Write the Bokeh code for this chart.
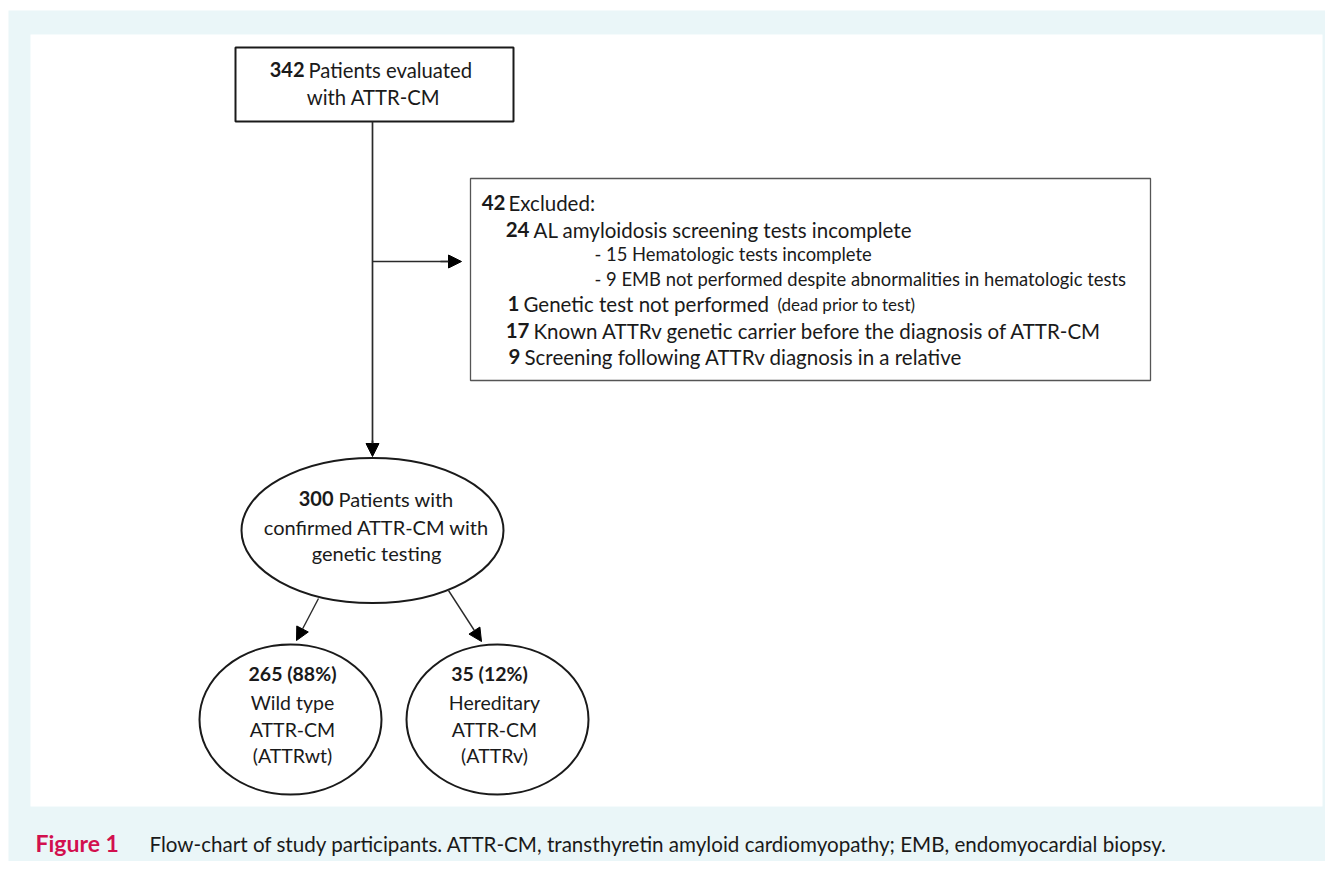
from bokeh.plotting import figure
from bokeh.models import Range1d, Arrow, NormalHead
from bokeh.core.properties import value
from bokeh.embed import file_html
from bokeh.resources import INLINE

# ---------------- data ----------------
total_n = "342"
total_txt = ["Patients evaluated", "with ATTR-CM"]
excl_n = "42"
excl_head = "Excluded:"
excl_main_n = ["24", "1", "17", "9"]
excl_main_txt = ["AL amyloidosis screening tests incomplete",
                 "Genetic test not performed",
                 "Known ATTRv genetic carrier before the diagnosis of ATTR-CM",
                 "Screening following ATTRv diagnosis in a relative"]
excl_sub = ["- 15 Hematologic tests incomplete",
            "- 9 EMB not performed despite abnormalities in hematologic tests"]
excl_note = "(dead prior to test)"
confirmed_n = "300"
confirmed_txt = ["Patients with", "confirmed ATTR-CM with", "genetic testing"]
groups_n = ["265 (88%)", "35 (12%)"]
groups_txt = [["Wild type", "ATTR-CM", "(ATTRwt)"],
              ["Hereditary", "ATTR-CM", "(ATTRv)"]]
caption_label = "Figure 1"
caption_text = ("Flow-chart of study participants. ATTR-CM, transthyretin amyloid "
                "cardiomyopathy; EMB, endomyocardial biopsy.")

# ---------------- styles ----------------
FONT = "Lato"
INK = "#1a1a1a"
PANEL = "#EAF6F8"
CRIMSON = "#D2104E"

p = figure(width=1325, height=861, x_range=Range1d(0, 1325), y_range=Range1d(861, 0),
           output_backend="svg", toolbar_location=None, min_border=0)
p.axis.visible = False
p.grid.visible = False
p.outline_line_color = None
p.background_fill_color = "white"
p.border_fill_color = "white"

# panel backgrounds
p.quad(left=[8], right=[1325], top=[10], bottom=[861], fill_color=PANEL, line_color=None)
p.quad(left=[30], right=[1322], top=[34], bottom=[806], fill_color="white", line_color=None)


def txt(x, y, s, bold=False, size="20px", align="left", color=INK, font=FONT):
    p.text(x=[x], y=[y], text=[s], text_font=value(font), text_font_size=size,
           text_font_style="bold" if bold else "normal", text_align=align,
           text_baseline="middle", text_color=color)


# top box
p.quad(left=[235], right=[513], top=[47], bottom=[121], fill_color=None,
       line_color=INK, line_width=2)
txt(304, 69, total_n, bold=True, align="right", size="20px")
txt(308, 69, total_txt[0], size="20.3px")
txt(373, 96, total_txt[1], align="center", size="20.3px")

# excluded box
MAIN = "20.5px"
SUB = "18.4px"
p.quad(left=[470], right=[1150], top=[178], bottom=[380], fill_color=None,
       line_color="#555555", line_width=1.3)
txt(505, 202, excl_n, bold=True, align="right", size=MAIN)
txt(508, 202, excl_head, size=MAIN)
main_y = [229, 303, 330, 356]
num_end = [529, 519, 529, 520]
for n, s, y, e in zip(excl_main_n, excl_main_txt, main_y, num_end):
    txt(e, y, n, bold=True, align="right", size=MAIN)
    txt(e + 4, y, s, size=MAIN)
txt(777, 304, excl_note, size="17px")
for s, y in zip(excl_sub, [253, 278]):
    txt(594, y, s, size=SUB)

# connectors
p.segment(x0=[372, 372], y0=[121, 261], x1=[372, 456], y1=[445, 261],
          line_color="#2a2a2a", line_width=1.7)
head = dict(size=13, fill_color="black", line_color="black")
p.add_layout(Arrow(end=NormalHead(**head), x_start=372, y_start=440, x_end=372, y_end=456,
                   line_color="#2a2a2a", line_width=1.7))
p.add_layout(Arrow(end=NormalHead(**head), x_start=440, y_start=261, x_end=461, y_end=261,
                   line_color="#2a2a2a", line_width=1.7))

# confirmed ellipse
p.ellipse(x=[372], y=[530], width=[262], height=[145], fill_color=None,
          line_color=INK, line_width=2)
txt(333, 498, confirmed_n, bold=True, align="right", size="20px")
txt(338, 498, confirmed_txt[0], size="20px")
txt(376, 526, confirmed_txt[1], align="center", size="20px")
txt(376, 552, confirmed_txt[2], align="center", size="20px")

# split arrows
p.add_layout(Arrow(end=NormalHead(**head), x_start=318, y_start=598, x_end=296, y_end=640,
                   line_color="#2a2a2a", line_width=1.4))
p.add_layout(Arrow(end=NormalHead(**head), x_start=448, y_start=590, x_end=481, y_end=641,
                   line_color="#2a2a2a", line_width=1.4))

# group circles
cx = [290, 497]
for i, c in enumerate(cx):
    p.ellipse(x=[c], y=[719], width=[182], height=[150], fill_color=None,
              line_color=INK, line_width=2)
    txt(c + (2 if i == 0 else -8), 673, groups_n[i], bold=True, align="center", size="19.5px")
    for j, s in enumerate(groups_txt[i]):
        txt(c + (2 if i == 0 else -3), 702 + 26.5 * j, s, align="center", size="19.5px")

# caption
txt(35, 842, caption_label, bold=True, align="left", color=CRIMSON, size="23px")
txt(149, 843, caption_text, align="left", color="#1a1a1a", size="20.6px")

open("out.html", "w").write(file_html(p, INLINE))
